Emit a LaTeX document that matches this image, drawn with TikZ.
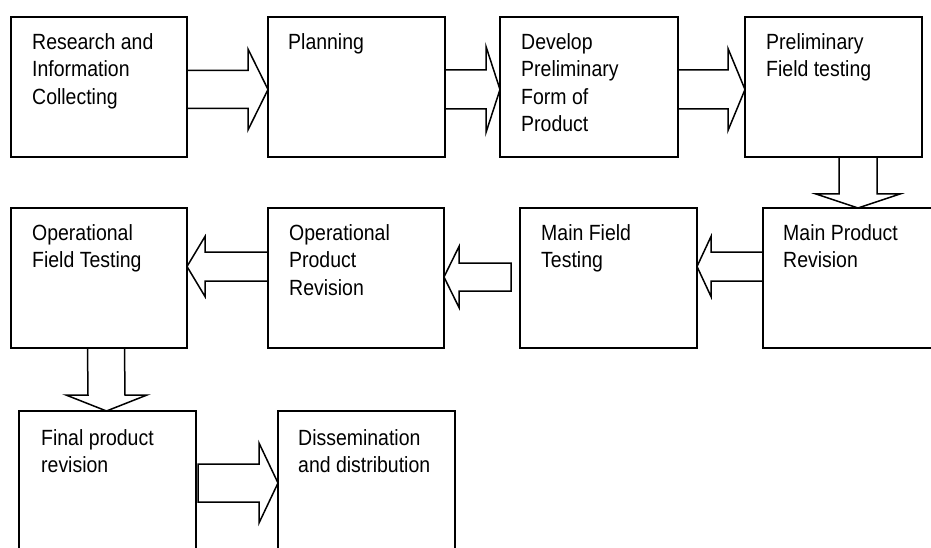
\documentclass[tikz,border=0pt]{standalone}
\usepackage{fontspec}
\setmainfont{Liberation Sans}
\newfontfamily\condfont{Liberation Sans}[FakeStretch=0.885]
\usetikzlibrary{calc}
\newcommand\arrR[6]{%
  \draw[arrowline] ($(#1)+(0,-#3)$) -- ($(#2)+(-#5,-#3)$) -- ($(#2)+(-#5,-#4)$) -- (#2)
    -- ($(#2)+(-#5,#4)$) -- ($(#2)+(-#5,#3)$) -- ($(#1)+(0,#3)$) #6;}
\newcommand\arrL[6]{%
  \draw[arrowline] ($(#1)+(0,-#3)$) -- ($(#2)+(#5,-#3)$) -- ($(#2)+(#5,-#4)$) -- (#2)
    -- ($(#2)+(#5,#4)$) -- ($(#2)+(#5,#3)$) -- ($(#1)+(0,#3)$) #6;}
\newcommand\arrD[6]{%
  \draw[arrowline] ($(#1)+(-#3,0)$) -- ($(#2)+(-#3,-#5)$) -- ($(#2)+(-#4,-#5)$) -- (#2)
    -- ($(#2)+(#4,-#5)$) -- ($(#2)+(#3,-#5)$) -- ($(#1)+(#3,0)$) #6;}
\begin{document}
\begin{tikzpicture}[x=1pt,y=-1pt,
  box/.style={draw=black, line width=1.8pt, rectangle, anchor=north west,
    minimum width=177pt, minimum height=140pt, inner sep=0pt, outer sep=0pt},
  txt/.style={anchor=north west, inner sep=0pt, align=left, text=black,
    font=\condfont\fontsize{22}{27.5}\selectfont},
  arrowline/.style={draw=black, line width=1.5pt, line join=miter}]
\useasboundingbox (0,0) rectangle (931,548);
\clip (0,0) rectangle (931,548);
% boxes
\node[box, minimum width=176pt] (b1) at (11,17) {};
\node[box] (b2) at (268,17) {};
\node[box, minimum width=178pt] (b3) at (500,17) {};
\node[box] (b4) at (745,17) {};
\node[box] (b5) at (763,208) {};
\node[box] (b6) at (520,208) {};
\node[box, minimum width=176pt] (b7) at (268,208) {};
\node[box, minimum width=176pt] (b8) at (11,208) {};
\node[box] (b9) at (19,411) {};
\node[box] (b10) at (278,411) {};
% texts
\node[txt] (t1) at ($(b1.north west)+(21,16)$) {Research and\\Information\\Collecting};
\node[txt] (t2) at ($(b2.north west)+(20,16)$) {Planning};
\node[txt] (t3) at ($(b3.north west)+(21,16)$) {Develop\\Preliminary\\Form of\\Product};
\node[txt] (t4) at ($(b4.north west)+(21,16)$) {Preliminary\\Field testing};
\node[txt] (t5) at ($(b5.north west)+(20,16)$) {Main Product\\Revision};
\node[txt] (t6) at ($(b6.north west)+(21,16)$) {Main Field\\Testing};
\node[txt] (t7) at ($(b7.north west)+(21,16)$) {Operational\\Product\\Revision};
\node[txt] (t8) at ($(b8.north west)+(21,16)$) {Operational\\Field Testing};
\node[txt] (t9) at ($(b9.north west)+(22,18)$) {Final product\\revision};
\node[txt] (t10) at ($(b10.north west)+(20,18)$) {Dissemination\\and distribution};
% connector end points
\coordinate (a1s) at ($(b1.east)+(0,2.5)$);
\coordinate (a1e) at ($(b2.west)+(0,2.5)$);
\coordinate (a2s) at ($(b2.east)+(0,2.5)$);
\coordinate (a2e) at ($(b3.west)+(0,2.5)$);
\coordinate (a3s) at ($(b3.east)+(0,2.5)$);
\coordinate (a3e) at ($(b4.west)+(0,2.5)$);
\coordinate (a4s) at ($(b4.south)+(24.5,0)$);
\coordinate (a4e) at ($(b5.north)+(6.5,0)$);
\coordinate (a5s) at ($(b5.west)+(0,-11.5)$);
\coordinate (a5e) at ($(b6.east)+(0,-11.5)$);
\coordinate (a6s) at ($(b6.west)+(-9,-1)$);
\coordinate (a6e) at ($(b7.east)+(0,-1)$);
\coordinate (a7s) at ($(b7.west)+(0,-11.5)$);
\coordinate (a7e) at ($(b8.east)+(0,-11.5)$);
\coordinate (a8s) at ($(b8.south)+(7,0)$);
\coordinate (a8e) at ($(b9.north)+(-1,0)$);
\coordinate (a9s) at ($(b9.east)+(2,2)$);
\coordinate (a9e) at ($(b10.west)+(0,2)$);
% block arrows
\arrR{a1s}{a1e}{19}{40.5}{20}{}
\arrR{a2s}{a2e}{19.5}{43}{14}{}
\arrR{a3s}{a3e}{19.5}{41}{17}{}
\arrD{a4s}{a4e}{19}{42}{14}{}
\arrL{a5s}{a5e}{14.5}{30}{14}{}
\arrL{a6s}{a6e}{14}{30.5}{15}{-- cycle}
\arrL{a7s}{a7e}{14.5}{30}{18}{}
\arrD{a8s}{a8e}{18.5}{40.5}{16}{}
\arrR{a9s}{a9e}{19}{40}{19}{-- cycle}
\end{tikzpicture}
\end{document}
